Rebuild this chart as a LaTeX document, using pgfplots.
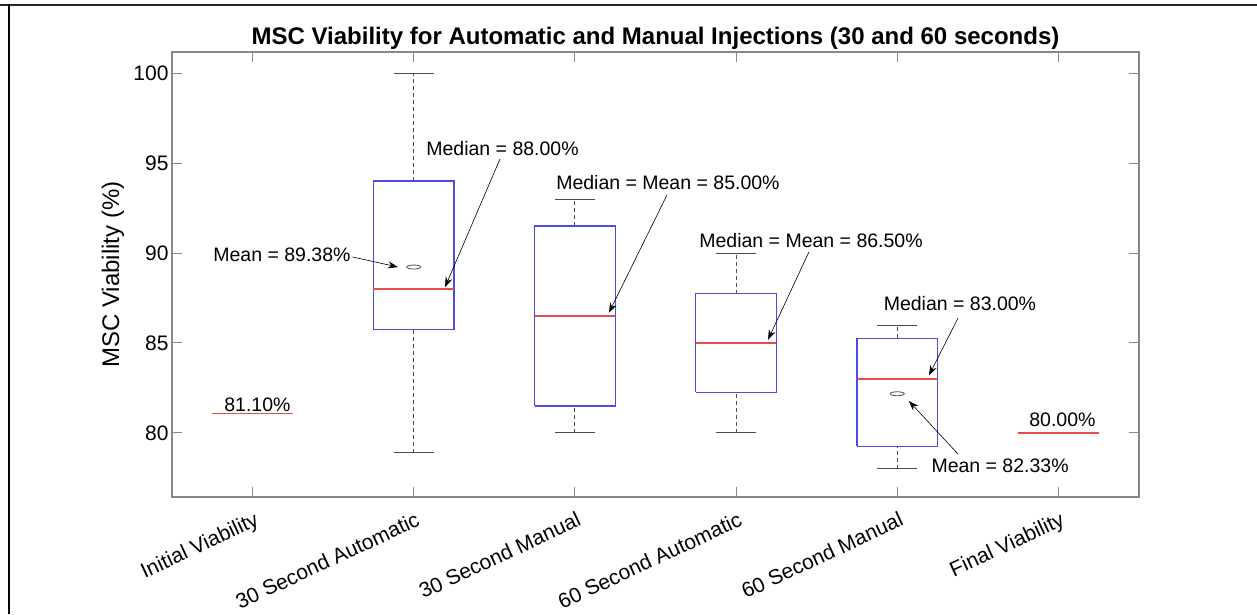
\documentclass[border=0pt]{standalone}
\usepackage{fontspec}
\setmainfont{Liberation Sans}
\usepackage{pgfplots}
\pgfplotsset{compat=1.18}
\usetikzlibrary{arrows.meta}

\definecolor{boxblue}{rgb}{0.3,0.3,0.9}
\definecolor{medred}{rgb}{0.9,0.3,0.3}
\definecolor{whisk}{rgb}{0.3,0.3,0.3}
\definecolor{axgray}{rgb}{0.53,0.53,0.53}

\newcommand\afont{\fontsize{19.5}{20}\selectfont}

\tikzset{arr/.style={-{Stealth[length=10pt,width=7pt]}, line width=0.6pt, black}}

\pgfplotsset{
  boxline/.style={draw=boxblue, line width=1.3pt},
  medline/.style={draw=medred, line width=1.3pt},
  whiskline/.style={draw=whisk, line width=0.9pt, dash pattern=on 4pt off 3pt},
  capline/.style={draw=whisk, line width=1pt},
}

\begin{document}
\begin{tikzpicture}
\path[use as bounding box] (0,0) rectangle (1257pt,614pt);
% frame of the screenshot
\draw[line width=2pt, black!85] (0,608.5pt) -- (1257pt,608.5pt);
\draw[line width=2.5pt, black] (9pt,0) -- (9pt,609.5pt);

\begin{axis}[
  at={(172pt,117pt)}, anchor=south west,
  scale only axis, width=967pt, height=445pt,
  xmin=0.5, xmax=6.5, ymin=76.444, ymax=101.167,
  clip=false,
  xtick={1,2,3,4,5,6},
  xticklabels={Initial Viability, 30 Second Automatic, 30 Second Manual,
    60 Second Automatic, 60 Second Manual, Final Viability},
  ytick={80,85,90,95,100},
  tick align=inside,
  major tick length=10pt,
  axis line style={draw=axgray, line width=1.3pt},
  tick style={draw=axgray, line width=1pt},
  /pgf/number format/assume math mode=true,
  tick label style={font=\fontsize{21}{21}\selectfont, text=black},
  xticklabel style={rotate=25, anchor=north east, inner sep=0pt, xshift=-5pt, yshift=-13pt},
  ylabel={MSC Viability (\%)},
  ylabel style={font=\fontsize{24}{24}\selectfont, at={(axis description cs:-0.061,0.5)}, anchor=center},
  title={MSC Viability for Automatic and Manual Injections (30 and 60 seconds)},
  title style={font=\fontsize{24}{24}\selectfont\bfseries, at={(0.5,1)}, anchor=base, yshift=1.5pt},
]

% single values
\addplot[medline] coordinates {(0.75,81.1) (1.25,81.1)};
\addplot[medline] coordinates {(5.75,80) (6.25,80)};

% 30 Second Automatic
\addplot[whiskline] coordinates {(2,94) (2,100)};
\addplot[whiskline] coordinates {(2,78.9) (2,85.75)};
\addplot[capline] coordinates {(1.875,100) (2.125,100)};
\addplot[capline] coordinates {(1.875,78.9) (2.125,78.9)};
\addplot[boxline] coordinates {(1.75,85.75) (2.25,85.75) (2.25,94) (1.75,94) (1.75,85.75)};
\addplot[medline] coordinates {(1.75,88) (2.25,88)};

% 30 Second Manual
\addplot[whiskline] coordinates {(3,91.5) (3,93)};
\addplot[whiskline] coordinates {(3,80) (3,81.5)};
\addplot[capline] coordinates {(2.875,93) (3.125,93)};
\addplot[capline] coordinates {(2.875,80) (3.125,80)};
\addplot[boxline] coordinates {(2.75,81.5) (3.25,81.5) (3.25,91.5) (2.75,91.5) (2.75,81.5)};
\addplot[medline] coordinates {(2.75,86.5) (3.25,86.5)};

% 60 Second Automatic
\addplot[whiskline] coordinates {(4,87.75) (4,90)};
\addplot[whiskline] coordinates {(4,80) (4,82.25)};
\addplot[capline] coordinates {(3.875,90) (4.125,90)};
\addplot[capline] coordinates {(3.875,80) (4.125,80)};
\addplot[boxline] coordinates {(3.75,82.25) (4.25,82.25) (4.25,87.75) (3.75,87.75) (3.75,82.25)};
\addplot[medline] coordinates {(3.75,85) (4.25,85)};

% 60 Second Manual
\addplot[whiskline] coordinates {(5,85.25) (5,86)};
\addplot[whiskline] coordinates {(5,78) (5,79.25)};
\addplot[capline] coordinates {(4.875,86) (5.125,86)};
\addplot[capline] coordinates {(4.875,78) (5.125,78)};
\addplot[boxline] coordinates {(4.75,79.25) (5.25,79.25) (5.25,85.25) (4.75,85.25) (4.75,79.25)};
\addplot[medline] coordinates {(4.75,83) (5.25,83)};

% means
\addplot[only marks, mark=o, mark size=2.5pt,
  mark options={xscale=2.8, yscale=0.8, draw=whisk, line width=0.8pt}]
  coordinates {(2,89.22) (5,82.18)};

% annotations
\node[font=\afont] at (axis cs:1.03,81.58) {81.10\%};
\node[font=\afont] at (axis cs:6.025,80.74) {80.00\%};

\node[font=\afont] at (axis cs:1.182,89.89) {Mean = 89.38\%};
\draw[arr] (axis cs:1.62,89.78) -- (axis cs:1.902,89.22);

\node[font=\afont] at (axis cs:2.551,95.83) {Median = 88.00\%};
\draw[arr] (axis cs:2.535,95.22) -- (axis cs:2.194,88.1);

\node[font=\afont] at (axis cs:3.577,93.89) {Median = Mean = 85.00\%};
\draw[arr] (axis cs:3.571,93.22) -- (axis cs:3.211,86.68);

\node[font=\afont] at (axis cs:4.465,90.72) {Median = Mean = 86.50\%};
\draw[arr] (axis cs:4.452,90.06) -- (axis cs:4.198,85.18);

\node[font=\afont] at (axis cs:5.389,87.17) {Median = 83.00\%};
\draw[arr] (axis cs:5.377,86.39) -- (axis cs:5.197,83.2);

\node[font=\afont] at (axis cs:5.638,78.17) {Mean = 82.33\%};
\draw[arr] (axis cs:5.377,78.83) -- (axis cs:5.072,81.78);
\end{axis}
\end{tikzpicture}
\end{document}
